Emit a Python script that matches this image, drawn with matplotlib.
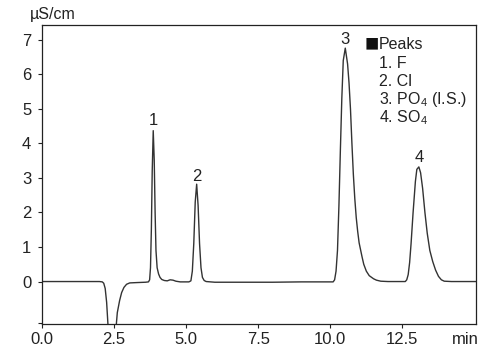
import matplotlib
matplotlib.use('Agg')
import matplotlib.pyplot as plt

plt.rcParams['font.family'] = ['Liberation Sans', 'DejaVu Sans']
plt.rcParams['mathtext.fontset'] = 'custom'
plt.rcParams['mathtext.rm'] = 'Liberation Sans'
plt.rcParams['mathtext.default'] = 'regular'

# chromatogram trace (min, uS/cm)
time = [0.0, 2.0, 2.1, 2.15, 2.2, 2.25, 2.3, 2.35, 2.5, 2.57, 2.62, 2.7, 2.77, 2.85,
        2.94, 3.05, 3.3, 3.6, 3.7, 3.74, 3.77, 3.8, 3.83, 3.865, 3.9, 3.93, 3.96, 4.0,
        4.05, 4.1, 4.16, 4.25, 4.35, 4.45, 4.55, 4.65, 4.8, 5.1, 5.17, 5.22, 5.27, 5.32,
        5.37, 5.42, 5.47, 5.52, 5.57, 5.63, 5.7, 6.0, 8.0, 9.0, 10.1, 10.15, 10.2, 10.25,
        10.3, 10.35, 10.4, 10.45, 10.52, 10.6, 10.65, 10.7, 10.75, 10.8, 10.85, 10.9,
        10.95, 11.0, 11.1, 11.16, 11.25, 11.35, 11.5, 11.6, 11.75, 12.0, 12.6, 12.65,
        12.7, 12.75, 12.8, 12.87, 12.95, 13.0, 13.07, 13.13, 13.2, 13.28, 13.36, 13.45,
        13.55, 13.65, 13.75, 13.85, 13.95, 14.2, 15.1]
signal = [0.0, 0.0, -0.01, -0.05, -0.2, -0.6, -1.3, -2.0, -2.0, -1.4, -0.9, -0.55, -0.32, -0.17,
          -0.08, -0.04, -0.03, -0.02, -0.01, 0.05, 0.4, 1.5, 3.2, 4.37, 3.5, 2.0, 0.9, 0.4,
          0.22, 0.12, 0.06, 0.03, 0.02, 0.05, 0.04, 0.01, -0.01, -0.01, 0.02, 0.3, 1.1, 2.3,
          2.82, 2.2, 1.1, 0.4, 0.12, 0.03, 0.0, -0.02, -0.02, -0.01, -0.01, 0.05, 0.3, 0.9,
          2.2, 3.8, 5.3, 6.4, 6.76, 6.3, 5.75, 5.0, 4.0, 3.1, 2.4, 1.85,
          1.45, 1.12, 0.72, 0.5, 0.3, 0.17, 0.08, 0.04, 0.01, 0.0, 0.0, 0.05,
          0.2, 0.55, 1.1, 2.0, 2.9, 3.25, 3.32, 3.15, 2.7, 2.0, 1.4, 0.9,
          0.58, 0.33, 0.15, 0.05, 0.01, 0.0, 0.0]

peak_labels = ['1', '2', '3', '4']
peak_x = [3.865, 5.37, 10.52, 13.07]
peak_y = [4.65, 3.05, 7.0, 3.6]

legend_items = ['1. F', '2. Cl', '3. PO$_4$ (I.S.)', '4. SO$_4$']

xticks = [0.0, 2.5, 5.0, 7.5, 10.0, 12.5]
yticks = [0, 1, 2, 3, 4, 5, 6, 7]

ink = '#222222'

fig = plt.figure(figsize=(5.0, 3.55), dpi=100)
ax = fig.add_axes([0.0834, 0.0873, 0.8686, 0.8423])

ax.plot(time, signal, color='#333333', lw=1.0)

for lab, x, y in zip(peak_labels, peak_x, peak_y):
    ax.text(x, y, lab, ha='center', va='center', fontsize=12, color=ink)

# legend block: big square, "Peaks", then the numbered list
ax.text(0.744, 0.936, '\u25a0', transform=ax.transAxes, fontsize=17,
        color='#111111', va='center', ha='left')
ax.text(0.775, 0.936, 'Peaks', transform=ax.transAxes, fontsize=11.5,
        color=ink, va='center', ha='left')
for i, item in enumerate(legend_items):
    ax.text(0.776, 0.8696 - i * 0.0602, item, transform=ax.transAxes, fontsize=11.5,
            color=ink, va='center', ha='left')

ax.set_xlim(0, 15.05)
ax.set_ylim(-1.23, 7.43)
ax.set_xticks(xticks)
ax.set_xticklabels([f'{t:.1f}' for t in xticks])
ax.set_yticks(yticks)
ax.set_yticks([-1.2], minor=True)
ax.tick_params(which='both', direction='out', length=3, width=0.8, colors=ink,
               labelsize=12)
ax.tick_params(axis='x', pad=3)
ax.tick_params(axis='y', pad=4.5)
for s in ax.spines.values():
    s.set_linewidth(0.9)
    s.set_color(ink)

fig.text(30 / 500, 1 - 18.5 / 355, '\u00b5S/cm', fontsize=11.5, color=ink,
         ha='left', va='baseline')
fig.text(465 / 500, 1 - 339 / 355, 'min', fontsize=12, color=ink,
         ha='center', va='center')

fig.savefig('out.png', dpi=100)
